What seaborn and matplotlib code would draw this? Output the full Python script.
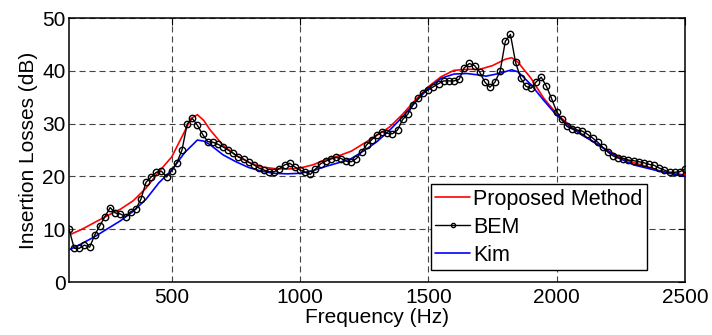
import numpy as np
import pandas as pd
import matplotlib
matplotlib.use("Agg")
import matplotlib.pyplot as plt
import seaborn as sns

# ---------------- data ----------------
bem_freq = list(range(100, 2501, 20))
bem_il = [
    10.0, 6.4, 6.4, 7.0, 6.6, 8.9, 10.7, 12.4, 14.1, 13.1,
    12.9, 12.4, 13.3, 13.8, 15.7, 18.9, 19.9, 20.8, 21.0, 19.9,
    21.1, 22.6, 25.0, 29.9, 31.0, 29.7, 28.0, 26.6, 26.5, 26.1,
    25.6, 25.0, 24.4, 23.7, 23.3, 22.7, 22.2, 21.6, 21.2, 20.9,
    20.9, 21.5, 22.2, 22.5, 21.8, 21.2, 20.8, 20.4, 21.4, 22.4,
    22.9, 23.3, 23.6, 23.4, 22.9, 22.8, 23.4, 24.7, 26.0, 27.0,
    27.9, 28.5, 28.2, 28.1, 28.8, 30.8, 31.8, 33.6, 34.8, 35.9,
    36.4, 37.0, 37.6, 38.1, 38.1, 38.1, 38.4, 40.6, 41.4, 41.0,
    39.8, 37.9, 36.9, 37.9, 40.0, 45.6, 46.9, 41.6, 38.6, 37.1,
    36.7, 37.9, 38.8, 37.1, 34.8, 32.3, 30.8, 29.5, 29.0, 28.8,
    28.6, 28.0, 27.3, 26.5, 25.5, 24.6, 23.9, 23.5, 23.4, 23.1,
    23.0, 22.8, 22.6, 22.3, 22.1, 21.6, 21.2, 20.8, 20.8, 20.9,
    21.4,
]

prop_freq = [100, 150, 200, 250, 300, 350, 400, 450, 500, 550, 575, 600, 625,
             650, 700, 750, 800, 850, 900, 950, 1000, 1050, 1100, 1150, 1200,
             1250, 1300, 1350, 1400, 1450, 1500, 1550, 1600, 1650, 1700, 1750,
             1800, 1825, 1850, 1900, 1950, 2000, 2050, 2100, 2150, 2200, 2250,
             2300, 2350, 2400, 2450, 2500]
prop_il = [8.9, 10.0, 11.3, 12.6, 13.8, 15.4, 17.8, 20.9, 23.7, 28.5, 31.0,
           31.7, 30.6, 28.8, 25.9, 24.0, 22.7, 21.8, 21.5, 21.4, 21.6, 22.2,
           23.2, 23.9, 24.8, 26.3, 27.8, 29.4, 31.8, 34.5, 37.0, 38.9, 40.1,
           40.3, 40.3, 41.0, 42.2, 42.5, 41.6, 38.6, 34.8, 31.9, 29.7, 28.0,
           26.3, 24.9, 23.6, 22.6, 21.9, 21.1, 20.6, 20.3]

kim_freq = [100, 150, 200, 250, 300, 350, 400, 450, 500, 550, 600, 625, 650,
            700, 750, 800, 850, 900, 950, 1000, 1050, 1100, 1150, 1200, 1250,
            1300, 1350, 1400, 1450, 1500, 1550, 1600, 1650, 1700, 1725, 1775,
            1825, 1850, 1900, 1950, 2000, 2050, 2100, 2150, 2200, 2250, 2300,
            2350, 2400, 2450, 2500]
kim_il = [6.1, 7.3, 8.6, 10.1, 11.6, 13.4, 15.7, 18.8, 21.2, 24.5, 26.9, 26.7,
          26.0, 24.1, 22.8, 21.7, 21.0, 20.6, 20.5, 20.6, 21.1, 21.9, 22.6,
          23.4, 24.9, 26.6, 28.8, 31.3, 34.1, 36.7, 38.6, 39.4, 39.5, 39.2,
          39.0, 39.5, 40.2, 39.8, 37.4, 34.4, 31.6, 29.5, 27.8, 26.4, 24.8,
          23.3, 22.2, 21.6, 21.0, 20.5, 20.1]

x_ticks = [500, 1000, 1500, 2000, 2500]
y_ticks = [0, 10, 20, 30, 40, 50]

# ---------------- plot ----------------
sns.set_theme(style="white")
plt.rcParams['font.family'] = ['Liberation Sans', 'DejaVu Sans']
plt.rcParams['text.color'] = 'black'
plt.rcParams['axes.labelcolor'] = 'black'
plt.rcParams['xtick.color'] = 'black'
plt.rcParams['ytick.color'] = 'black'

FS = 15
LFS = 15.5

fig = plt.figure(figsize=(7.12, 3.35), dpi=100)
ax = fig.add_axes([0.097, 0.158, 0.865, 0.788])

df_prop = pd.DataFrame({"f": prop_freq, "il": prop_il})
df_bem = pd.DataFrame({"f": bem_freq, "il": bem_il})
df_kim = pd.DataFrame({"f": kim_freq, "il": kim_il})

sns.lineplot(data=df_prop, x="f", y="il", ax=ax, color="#ff0000", lw=1.2,
             label="Proposed Method", zorder=3)
sns.lineplot(data=df_bem, x="f", y="il", ax=ax, color="black", lw=1.0,
             marker="o", markersize=4.6, markerfacecolor="none",
             markeredgecolor="black", markeredgewidth=1.0,
             label="BEM", zorder=4)
sns.lineplot(data=df_kim, x="f", y="il", ax=ax, color="#0000ff", lw=1.2,
             label="Kim", zorder=3)

ax.set_xlim(100, 2500)
ax.set_ylim(0, 50)
ax.set_xticks(x_ticks)
ax.set_yticks(y_ticks)
ax.set_xlabel("Frequency (Hz)", fontsize=FS, labelpad=1, color="black")
ax.set_ylabel("Insertion Losses (dB)", fontsize=FS, labelpad=3, color="black")

ax.grid(True, color="#444444", linestyle=(0, (5.5, 3.5)), lw=0.8)
ax.set_axisbelow(True)
for s in ax.spines.values():
    s.set_visible(True)
    s.set_color("black")
    s.set_linewidth(1.1)
ax.tick_params(axis="both", which="both", direction="in", length=5,
               width=0.8, color="black", labelsize=FS, top=True, right=True,
               labelcolor="black")
ax.tick_params(axis="x", pad=4)
ax.tick_params(axis="y", pad=2.5)

leg = ax.legend(loc="lower right", bbox_to_anchor=(0.938, 0.045),
                fontsize=LFS, frameon=True, fancybox=False, framealpha=1,
                edgecolor="black", handlelength=1.6, handletextpad=0.15,
                borderpad=0.2, labelspacing=0.33, borderaxespad=0)
leg.get_frame().set_linewidth(1.0)
for t in leg.get_texts():
    t.set_color("black")
for h in leg.legend_handles:
    try:
        h.set_markersize(3)
    except Exception:
        pass

fig.savefig("out.png", dpi=100)
